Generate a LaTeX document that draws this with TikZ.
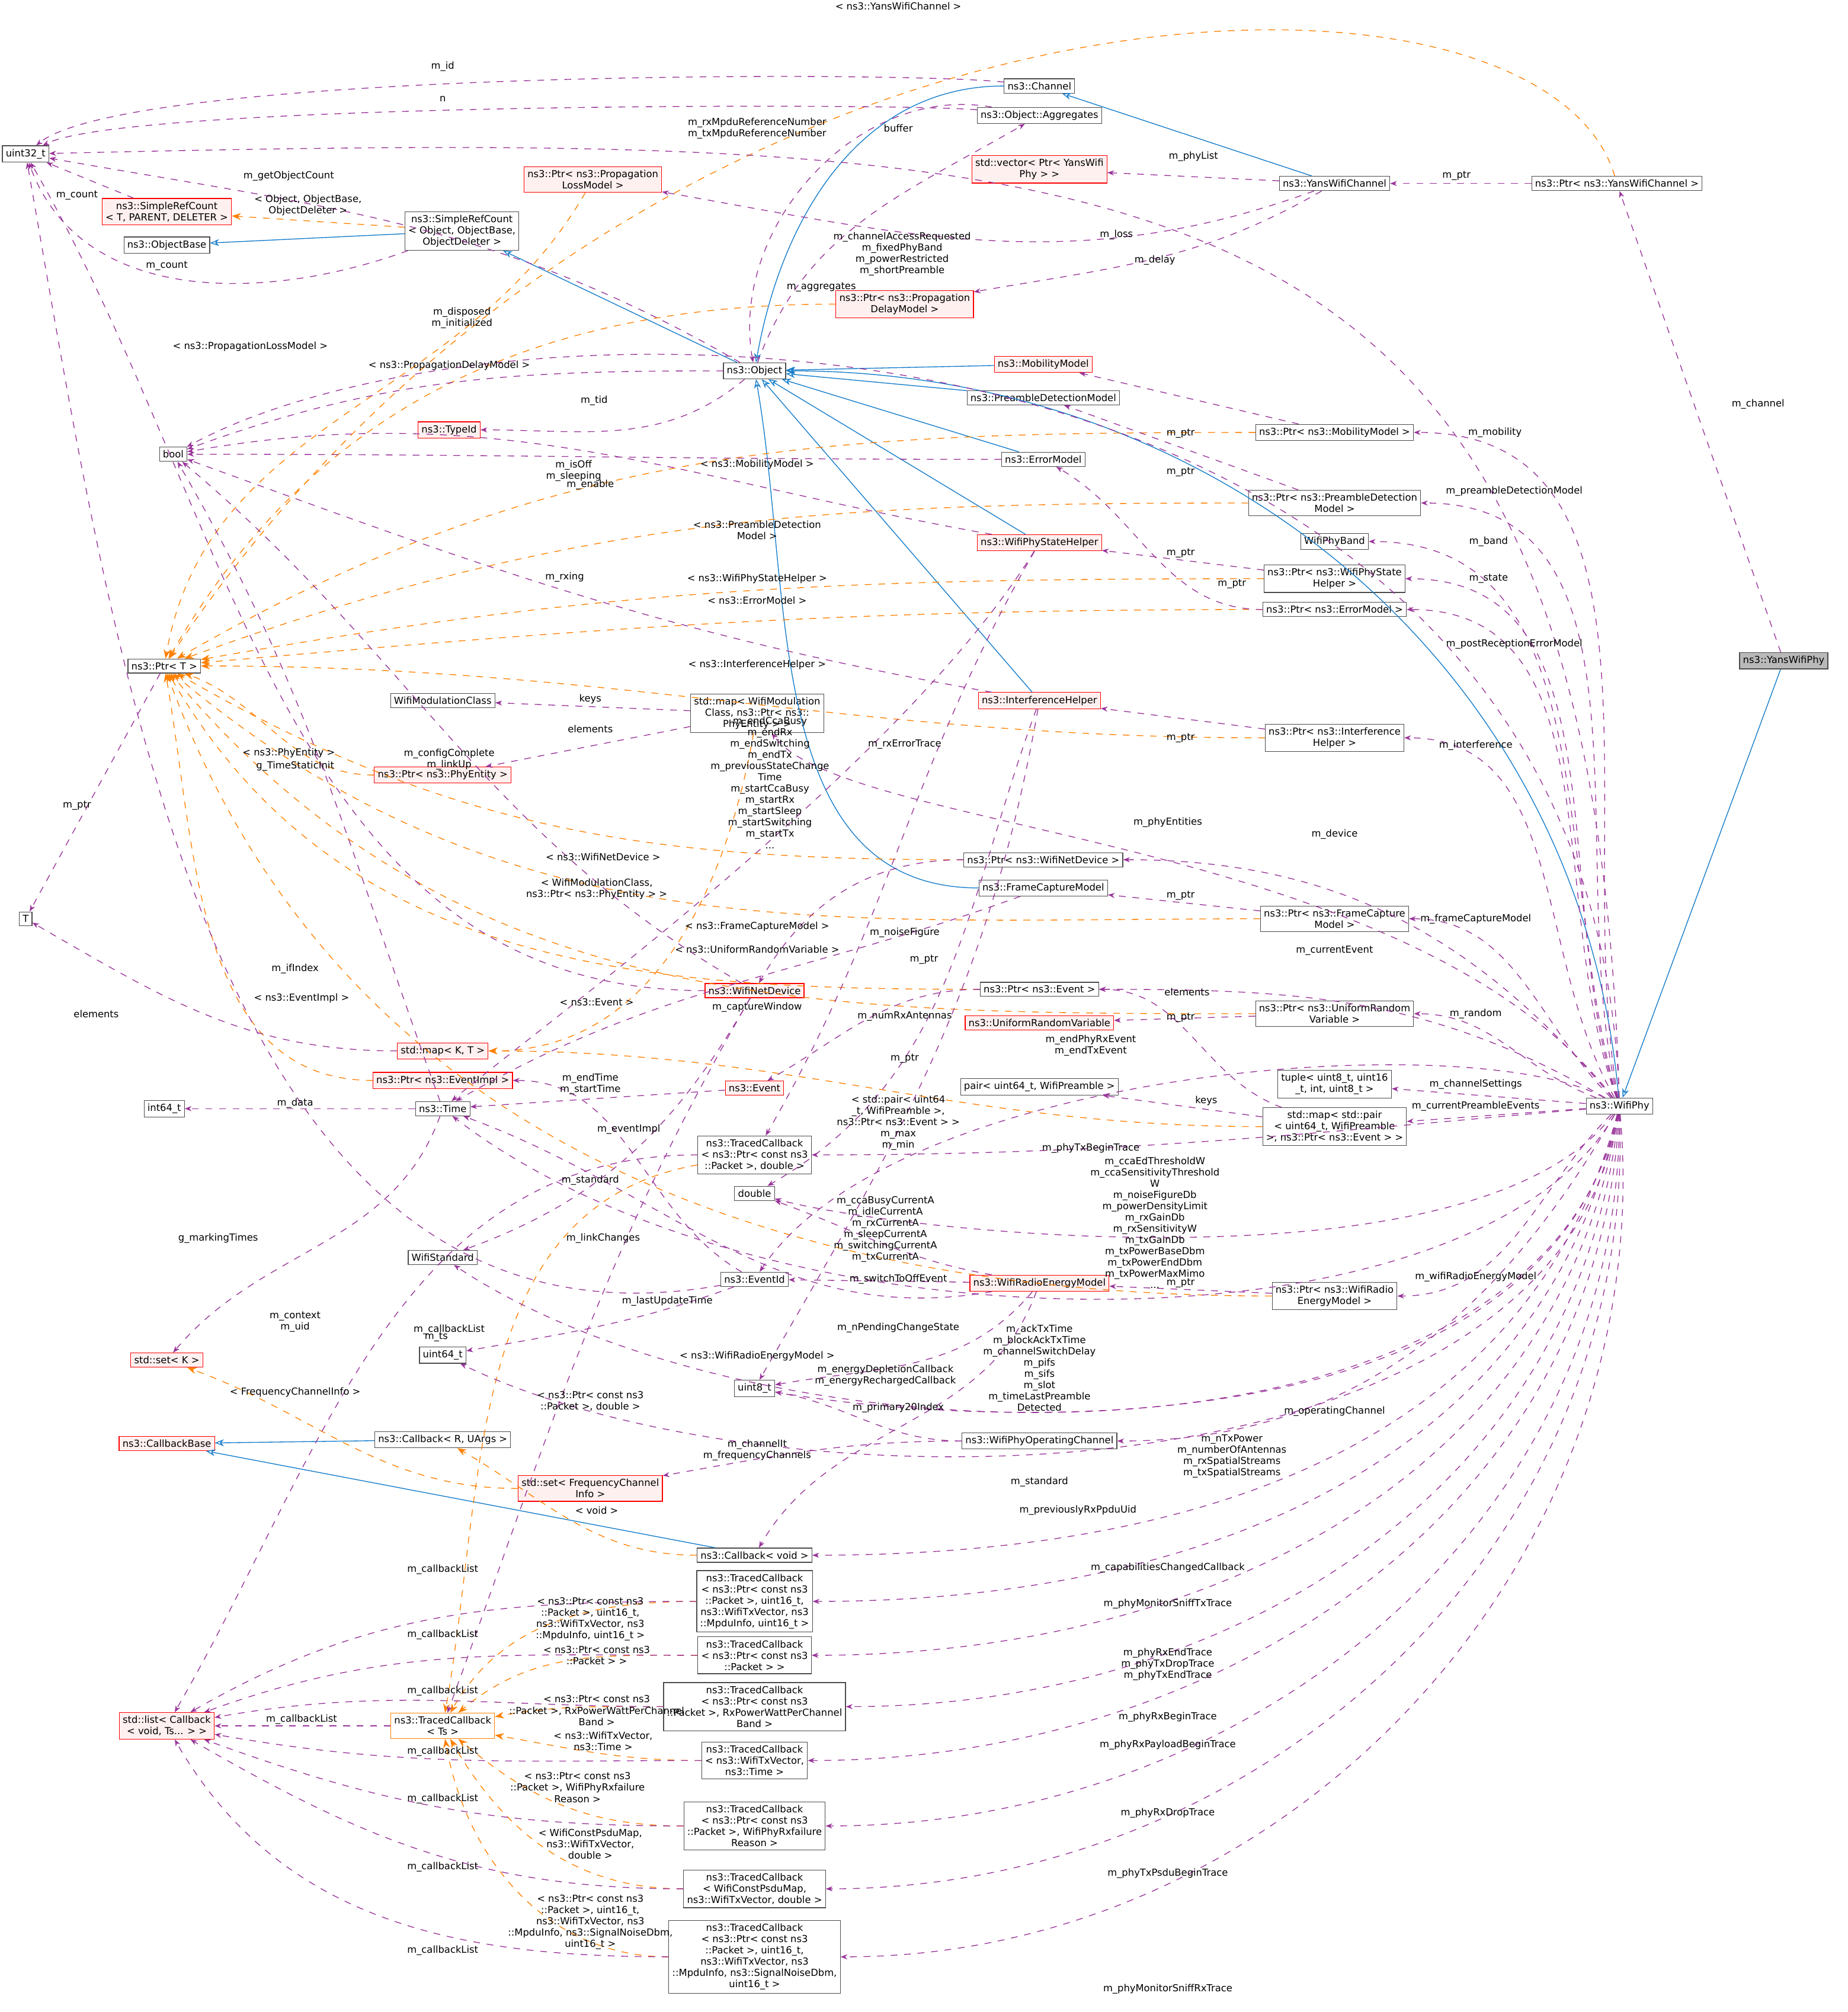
\documentclass[tikz,border=0pt]{standalone}
\usepackage{fontspec}
\setmainfont{DejaVu Sans}
\usetikzlibrary{arrows.meta}

\begin{document}
\begin{tikzpicture}[x=0.02cm,y=-0.02cm,
    box/.style={draw=black!70, fill=white, font=\fontsize{4.3}{5}\selectfont, align=center, inner sep=1.5pt, line width=0.3pt},
    redbox/.style={box, draw=red, fill=red!6},
    orbox/.style={box, draw=orange},
    mem/.style={draw=violet!80, dashed, line width=0.35pt, -{Stealth[length=3pt]}},
    inh/.style={draw=cyan!60!blue, line width=0.35pt, -{Stealth[open,length=4pt]}},
    tpl/.style={draw=orange, dashed, line width=0.35pt, -{Stealth[length=4pt]}},
    lab/.style={font=\fontsize{4.3}{5}\selectfont, align=center, inner sep=0.5pt, text=black}]
    \useasboundingbox (0,0) rectangle (1440,1568);

    % classes
    \node[box, fill=gray!55] (yphy) at (1390,515) {ns3::YansWifiPhy};
    \node[box] (wphy) at (1262,862) {ns3::WifiPhy};
    \node[box] (obj) at (588,289) {ns3::Object};
    \node[box] (u32) at (20,120) {uint32\_t};
    \node[box] (chan) at (810,67) {ns3::Channel};
    \node[box] (aggr) at (810,90) {ns3::Object::Aggregates};
    \node[redbox] (vphy) at (810,132) {std::vector< Ptr< YansWifi\\Phy > >};
    \node[box] (ychan) at (1040,143) {ns3::YansWifiChannel};
    \node[box] (pychan) at (1260,143) {ns3::Ptr< ns3::YansWifiChannel >};
    \node[redbox] (ploss) at (462,140) {ns3::Ptr< ns3::Propagation\\LossModel >};
    \node[redbox] (srct) at (130,165) {ns3::SimpleRefCount\\< T, PARENT, DELETER >};
    \node[box] (objb) at (130,191) {ns3::ObjectBase};
    \node[box] (srco) at (360,180) {ns3::SimpleRefCount\\< Object, ObjectBase,\\ObjectDeleter >};
    \node[redbox] (pdelay) at (705,237) {ns3::Ptr< ns3::Propagation\\DelayModel >};
    \node[redbox] (mob) at (813,284) {ns3::MobilityModel};
    \node[box] (pdm) at (813,310) {ns3::PreambleDetectionModel};
    \node[box] (pmob) at (1040,337) {ns3::Ptr< ns3::MobilityModel >};
    \node[redbox] (tid) at (350,335) {ns3::TypeId};
    \node[box] (bool) at (135,354) {bool};
    \node[box] (err) at (813,358) {ns3::ErrorModel};
    \node[box] (ppdm) at (1040,392) {ns3::Ptr< ns3::PreambleDetection\\Model >};
    \node[box] (band) at (1040,422) {WifiPhyBand};
    \node[redbox] (sth) at (810,423) {ns3::WifiPhyStateHelper};
    \node[box] (psth) at (1040,451) {ns3::Ptr< ns3::WifiPhyState\\Helper >};
    \node[box] (perr) at (1040,475) {ns3::Ptr< ns3::ErrorModel >};
    \node[box] (ptrt) at (128,519) {ns3::Ptr< T >};
    \node[box] (wmc) at (345,546) {WifiModulationClass};
    \node[box] (mapwmc) at (590,556) {std::map< WifiModulation\\Class, ns3::Ptr< ns3::\\PhyEntity > >};
    \node[redbox] (ifh) at (810,546) {ns3::InterferenceHelper};
    \node[box] (pifh) at (1040,575) {ns3::Ptr< ns3::Interference\\Helper >};
    \node[redbox] (ppe) at (345,604) {ns3::Ptr< ns3::PhyEntity >};
    \node[box] (pnd) at (813,670) {ns3::Ptr< ns3::WifiNetDevice >};
    \node[box] (fcm) at (813,692) {ns3::FrameCaptureModel};
    \node[box] (pfcm) at (1040,716) {ns3::Ptr< ns3::FrameCapture\\Model >};
    \node[box] (t) at (20,716) {T};
    \node[redbox] (nd) at (588,772) {ns3::WifiNetDevice};
    \node[box] (pev) at (810,771) {ns3::Ptr< ns3::Event >};
    \node[box] (purv) at (1040,790) {ns3::Ptr< ns3::UniformRandom\\Variable >};
    \node[redbox] (urv) at (810,797) {ns3::UniformRandomVariable};
    \node[redbox] (mapkt) at (345,819) {std::map< K, T >};
    \node[redbox] (pevi) at (345,842) {ns3::Ptr< ns3::EventImpl >};
    \node[box] (pair) at (810,847) {pair< uint64\_t, WifiPreamble >};
    \node[box] (tuple) at (1040,845) {tuple< uint8\_t, uint16\\\_t, int, uint8\_t >};
    \node[redbox] (ev) at (588,848) {ns3::Event};
    \node[box] (i64) at (128,864) {int64\_t};
    \node[box] (time) at (345,864) {ns3::Time};
    \node[box] (mappair) at (1040,878) {std::map< std::pair\\< uint64\_t, WifiPreamble\\>, ns3::Ptr< ns3::Event > >};
    \node[box] (tcpd) at (588,900) {ns3::TracedCallback\\< ns3::Ptr< const ns3\\::Packet >, double >};
    \node[box] (dbl) at (588,930) {double};
    \node[box] (std) at (345,980) {WifiStandard};
    \node[box] (evid) at (588,997) {ns3::EventId};
    \node[redbox] (rem) at (810,1000) {ns3::WifiRadioEnergyModel};
    \node[box] (prem) at (1040,1010) {ns3::Ptr< ns3::WifiRadio\\EnergyModel >};
    \node[redbox] (setk) at (130,1060) {std::set< K >};
    \node[box] (u64) at (345,1056) {uint64\_t};
    \node[box] (u8) at (588,1082) {uint8\_t};
    \node[box] (opch) at (810,1123) {ns3::WifiPhyOperatingChannel};
    \node[redbox] (cbb) at (130,1125) {ns3::CallbackBase};
    \node[box] (cbr) at (345,1122) {ns3::Callback< R, UArgs >};
    \node[redbox] (setf) at (460,1160) {std::set< FrequencyChannel\\Info >};
    \node[box] (cbv) at (588,1212) {ns3::Callback< void >};
    \node[box] (tc1) at (588,1248) {ns3::TracedCallback\\< ns3::Ptr< const ns3\\::Packet >, uint16\_t,\\ns3::WifiTxVector, ns3\\::MpduInfo, uint16\_t >};
    \node[box] (tc2) at (588,1290) {ns3::TracedCallback\\< ns3::Ptr< const ns3\\::Packet > >};
    \node[redbox] (list) at (130,1345) {std::list< Callback\\< void, Ts... > >};
    \node[orbox] (tcts) at (345,1345) {ns3::TracedCallback\\< Ts >};
    \node[box] (tc3) at (588,1330) {ns3::TracedCallback\\< ns3::Ptr< const ns3\\::Packet >, RxPowerWattPerChannel\\Band >};
    \node[box] (tc4) at (588,1372) {ns3::TracedCallback\\< ns3::WifiTxVector,\\ns3::Time >};
    \node[box] (tc5) at (588,1423) {ns3::TracedCallback\\< ns3::Ptr< const ns3\\::Packet >, WifiPhyRxfailure\\Reason >};
    \node[box] (tc6) at (588,1472) {ns3::TracedCallback\\< WifiConstPsduMap,\\ns3::WifiTxVector, double >};
    \node[box] (tc7) at (588,1525) {ns3::TracedCallback\\< ns3::Ptr< const ns3\\::Packet >, uint16\_t,\\ns3::WifiTxVector, ns3\\::MpduInfo, ns3::SignalNoiseDbm,\\uint16\_t >};

    % inheritance
    \draw[inh] (yphy) -- (wphy);
    \draw[inh] (wphy) to[out=95,in=0] (obj);
    \draw[inh] (ychan) -- (chan);
    \draw[inh] (chan) to[out=180,in=80] (obj);
    \draw[inh] (obj) -- (srco);
    \draw[inh] (srco) -- (objb);
    \draw[inh] (mob) -- (obj);
    \draw[inh] (pdm) -- (obj);
    \draw[inh] (err) -- (obj);
    \draw[inh] (sth) -- (obj);
    \draw[inh] (ifh) -- (obj);
    \draw[inh] (fcm) to[out=180,in=-80] (obj);
    \draw[inh] (cbr) -- (cbb);
    \draw[inh] (cbv) -- (cbb);

    % templates
    \draw[tpl] (srco) -- (srct);
    \draw[tpl] (pychan) .. controls (1200,-60) and (500,-40) .. (ptrt);
    \draw[tpl] (ploss) to[out=240,in=80] (ptrt);
    \draw[tpl] (pdelay) to[out=180,in=60] (ptrt);
    \draw[tpl] (pmob) to[out=180,in=30] (ptrt);
    \draw[tpl] (ppdm) to[out=180,in=20] (ptrt);
    \draw[tpl] (psth) to[out=180,in=10] (ptrt);
    \draw[tpl] (perr) to[out=180,in=5] (ptrt);
    \draw[tpl] (pifh) to[out=180,in=0] (ptrt);
    \draw[tpl] (ppe) to[out=180,in=-20] (ptrt);
    \draw[tpl] (pnd) to[out=180,in=-30] (ptrt);
    \draw[tpl] (pfcm) to[out=180,in=-40] (ptrt);
    \draw[tpl] (purv) to[out=180,in=-50] (ptrt);
    \draw[tpl] (pev) to[out=180,in=-60] (ptrt);
    \draw[tpl] (pevi) to[out=180,in=-80] (ptrt);
    \draw[tpl] (prem) to[out=180,in=-70] (ptrt);
    \draw[tpl] (mapwmc) to[out=-100,in=0] (mapkt);
    \draw[tpl] (mappair) to[out=180,in=0] (mapkt);
    \draw[tpl] (setf) to[out=180,in=-20] (setk);
    \draw[tpl] (cbv) to[out=180,in=-30] (cbr);
    \draw[tpl] (tcpd) to[out=190,in=80] (tcts);
    \draw[tpl] (tc1) to[out=180,in=60] (tcts);
    \draw[tpl] (tc2) to[out=180,in=40] (tcts);
    \draw[tpl] (tc3) to[out=180,in=10] (tcts);
    \draw[tpl] (tc4) to[out=180,in=-10] (tcts);
    \draw[tpl] (tc5) to[out=180,in=-40] (tcts);
    \draw[tpl] (tc6) to[out=180,in=-60] (tcts);
    \draw[tpl] (tc7) to[out=180,in=-80] (tcts);

    % members
    \draw[mem] (yphy) -- (pychan);
    \draw[mem] (pychan) -- (ychan);
    \draw[mem] (ychan) -- (vphy);
    \draw[mem] (ychan) to[out=200,in=-10] (ploss);
    \draw[mem] (ychan) to[out=-150,in=10] (pdelay);
    \draw[mem] (chan) .. controls (700,55) and (100,55) .. (u32);
    \draw[mem] (aggr) .. controls (700,80) and (100,80) .. (u32);
    \draw[mem] (obj) to[out=70,in=210] (aggr);
    \draw[mem] (aggr) to[out=170,in=100] (obj);
    \draw[mem] (obj) to[out=180,in=20] (bool);
    \draw[mem] (obj) to[out=150,in=-10] (u32);
    \draw[mem] (obj) to[out=220,in=0] (tid);
    \draw[mem] (srco) to[out=200,in=-70] (u32);
    \draw[mem] (srct) -- (u32);
    \draw[mem] (ptrt) -- (t);
    \draw[mem] (wphy) .. controls (1240,110) and (900,100) .. (u32);
    \draw[mem] (wphy) .. controls (1240,220) and (400,210) .. (bool);
    \draw[mem] (wphy) to[out=100,in=0] (pmob);
    \draw[mem] (pmob) -- (mob);
    \draw[mem] (wphy) to[out=103,in=0] (ppdm);
    \draw[mem] (ppdm) -- (pdm);
    \draw[mem] (wphy) to[out=106,in=0] (band);
    \draw[mem] (wphy) to[out=108,in=0] (psth);
    \draw[mem] (psth) -- (sth);
    \draw[mem] (wphy) to[out=110,in=0] (perr);
    \draw[mem] (perr) to[out=180,in=-30] (err);
    \draw[mem] (err) to[out=180,in=0] (bool);
    \draw[mem] (sth) to[out=170,in=10] (bool);
    \draw[mem] (sth) .. controls (700,600) and (420,800) .. (time);
    \draw[mem] (sth) to[out=-120,in=60] (tcpd);
    \draw[mem] (ifh) to[out=170,in=-20] (bool);
    \draw[mem] (ifh) to[out=-110,in=30] (dbl);
    \draw[mem] (ifh) to[out=-100,in=60] (u8);
    \draw[mem] (wphy) to[out=120,in=0] (pifh);
    \draw[mem] (pifh) -- (ifh);
    \draw[mem] (wphy) .. controls (1100,650) and (660,650) .. (mapwmc);
    \draw[mem] (mapwmc) -- (wmc);
    \draw[mem] (mapwmc) -- (ppe);
    \draw[mem] (wphy) to[out=130,in=0] (pnd);
    \draw[mem] (pnd) to[out=180,in=60] (nd);
    \draw[mem] (nd) to[out=150,in=-40] (bool);
    \draw[mem] (nd) to[out=180,in=-60] (u32);
    \draw[mem] (nd) to[out=-120,in=70] (tcts);
    \draw[mem] (nd) to[out=-120,in=20] (std);
    \draw[mem] (wphy) to[out=135,in=0] (pfcm);
    \draw[mem] (pfcm) -- (fcm);
    \draw[mem] (fcm) to[out=200,in=30] (time);
    \draw[mem] (wphy) to[out=150,in=0] (pev);
    \draw[mem] (pev) to[out=180,in=30] (ev);
    \draw[mem] (wphy) to[out=160,in=0] (purv);
    \draw[mem] (purv) -- (urv);
    \draw[mem] (mapkt) to[out=180,in=-30] (t);
    \draw[mem] (evid) to[out=150,in=0] (pevi);
    \draw[mem] (ev) -- (time);
    \draw[mem] (time) -- (i64);
    \draw[mem] (time) to[out=-110,in=50] (setk);
    \draw[mem] (time) to[out=110,in=-60] (bool);
    \draw[mem] (wphy) -- (tuple);
    \draw[mem] (wphy) -- (mappair);
    \draw[mem] (mappair) -- (pair);
    \draw[mem] (mappair) to[out=160,in=0] (pev);
    \draw[mem] (wphy) .. controls (1150,800) and (700,830) .. (evid);
    \draw[mem] (wphy) to[out=185,in=0] (tcpd);
    \draw[mem] (wphy) .. controls (1150,1010) and (700,960) .. (dbl);
    \draw[mem] (wphy) to[out=225,in=0] (prem);
    \draw[mem] (prem) -- (rem);
    \draw[mem] (rem) to[out=170,in=-20] (dbl);
    \draw[mem] (rem) -- (evid);
    \draw[mem] (rem) to[out=190,in=-20] (time);
    \draw[mem] (rem) to[out=-130,in=10] (u8);
    \draw[mem] (rem) to[out=-110,in=60] (cbv);
    \draw[mem] (evid) to[out=190,in=-80] (u32);
    \draw[mem] (evid) to[out=200,in=10] (u64);
    \draw[mem] (wphy) .. controls (1150,1060) and (600,1060) .. (time);
    \draw[mem] (wphy) to[out=240,in=0] (opch);
    \draw[mem] (opch) to[out=180,in=-10] (u8);
    \draw[mem] (opch) to[out=180,in=10] (setf);
    \draw[mem] (wphy) .. controls (1200,1140) and (750,1110) .. (u8);
    \draw[mem] (wphy) .. controls (1200,1160) and (600,1150) .. (std);
    \draw[mem] (wphy) .. controls (1210,1180) and (600,1180) .. (u64);
    \draw[mem] (wphy) to[out=255,in=0] (cbv);
    \draw[mem] (wphy) to[out=258,in=0] (tc1);
    \draw[mem] (wphy) to[out=261,in=0] (tc2);
    \draw[mem] (wphy) to[out=264,in=0] (tc3);
    \draw[mem] (wphy) to[out=267,in=0] (tc4);
    \draw[mem] (wphy) to[out=270,in=0] (tc5);
    \draw[mem] (wphy) to[out=272,in=0] (tc6);
    \draw[mem] (wphy) to[out=275,in=0] (tc7);
    \draw[mem] (tcts) -- (list);
    \draw[mem] (tcpd) to[out=180,in=60] (list);
    \draw[mem] (tc1) to[out=180,in=30] (list);
    \draw[mem] (tc2) to[out=180,in=20] (list);
    \draw[mem] (tc3) to[out=180,in=10] (list);
    \draw[mem] (tc4) to[out=180,in=-10] (list);
    \draw[mem] (tc5) to[out=180,in=-20] (list);
    \draw[mem] (tc6) to[out=180,in=-30] (list);
    \draw[mem] (tc7) to[out=180,in=-60] (list);

    % labels
    \node[lab] at (1370,315) {m\_channel};
    \node[lab] at (1135,137) {m\_ptr};
    \node[lab] at (930,122) {m\_phyList};
    \node[lab] at (870,183) {m\_loss};
    \node[lab] at (900,203) {m\_delay};
    \node[lab] at (345,52) {m\_id};
    \node[lab] at (345,77) {n};
    \node[lab] at (700,100) {buffer};
    \node[lab] at (640,224) {m\_aggregates};
    \node[lab] at (360,248) {m\_disposed\\m\_initialized};
    \node[lab] at (225,137) {m\_getObjectCount};
    \node[lab] at (463,312) {m\_tid};
    \node[lab] at (130,207) {m\_count};
    \node[lab] at (60,152) {m\_count};
    \node[lab] at (60,628) {m\_ptr};
    \node[lab] at (700,5) {< ns3::YansWifiChannel >};
    \node[lab] at (240,160) {< Object, ObjectBase,\\ObjectDeleter >};
    \node[lab] at (590,100) {m\_rxMpduReferenceNumber\\m\_txMpduReferenceNumber};
    \node[lab] at (703,198) {m\_channelAccessRequested\\m\_fixedPhyBand\\m\_powerRestricted\\m\_shortPreamble};
    \node[lab] at (195,270) {< ns3::PropagationLossModel >};
    \node[lab] at (350,285) {< ns3::PropagationDelayModel >};
    \node[lab] at (590,362) {< ns3::MobilityModel >};
    \node[lab] at (590,413) {< ns3::PreambleDetection\\Model >};
    \node[lab] at (590,451) {< ns3::WifiPhyStateHelper >};
    \node[lab] at (590,468) {< ns3::ErrorModel >};
    \node[lab] at (590,518) {< ns3::InterferenceHelper >};
    \node[lab] at (225,587) {< ns3::PhyEntity >};
    \node[lab] at (470,668) {< ns3::WifiNetDevice >};
    \node[lab] at (465,693) {< WifiModulationClass,\\ns3::Ptr< ns3::PhyEntity > >};
    \node[lab] at (590,722) {< ns3::FrameCaptureModel >};
    \node[lab] at (590,740) {< ns3::UniformRandomVariable >};
    \node[lab] at (465,781) {< ns3::Event >};
    \node[lab] at (235,778) {< ns3::EventImpl >};
    \node[lab] at (700,875) {< std::pair< uint64\\\_t, WifiPreamble >,\\ns3::Ptr< ns3::Event > >\\m\_max\\m\_min};
    \node[lab] at (590,1057) {< ns3::WifiRadioEnergyModel >};
    \node[lab] at (230,1085) {< FrequencyChannelInfo >};
    \node[lab] at (465,1177) {< void >};
    \node[lab] at (920,338) {m\_ptr};
    \node[lab] at (920,368) {m\_ptr};
    \node[lab] at (920,431) {m\_ptr};
    \node[lab] at (960,455) {m\_ptr};
    \node[lab] at (920,575) {m\_ptr};
    \node[lab] at (920,698) {m\_ptr};
    \node[lab] at (920,793) {m\_ptr};
    \node[lab] at (925,773) {elements};
    \node[lab] at (940,858) {keys};
    \node[lab] at (920,1000) {m\_ptr};
    \node[lab] at (720,748) {m\_ptr};
    \node[lab] at (705,825) {m\_ptr};
    \node[lab] at (1165,337) {m\_mobility};
    \node[lab] at (1180,383) {m\_preambleDetectionModel};
    \node[lab] at (1160,422) {m\_band};
    \node[lab] at (1160,451) {m\_state};
    \node[lab] at (1180,502) {m\_postReceptionErrorModel};
    \node[lab] at (1150,581) {m\_interference};
    \node[lab] at (910,641) {m\_phyEntities};
    \node[lab] at (1040,650) {m\_device};
    \node[lab] at (1150,716) {m\_frameCaptureModel};
    \node[lab] at (1040,741) {m\_currentEvent};
    \node[lab] at (1150,790) {m\_random};
    \node[lab] at (1150,845) {m\_channelSettings};
    \node[lab] at (1150,862) {m\_currentPreambleEvents};
    \node[lab] at (850,815) {m\_endPhyRxEvent\\m\_endTxEvent};
    \node[lab] at (850,895) {m\_phyTxBeginTrace};
    \node[lab] at (900,953) {m\_ccaEdThresholdW\\m\_ccaSensitivityThreshold\\W\\m\_noiseFigureDb\\m\_powerDensityLimit\\m\_rxGainDb\\m\_rxSensitivityW\\m\_txGainDb\\m\_txPowerBaseDbm\\m\_txPowerEndDbm\\m\_txPowerMaxMimo\\...};
    \node[lab] at (1150,995) {m\_wifiRadioEnergyModel};
    \node[lab] at (690,958) {m\_ccaBusyCurrentA\\m\_idleCurrentA\\m\_rxCurrentA\\m\_sleepCurrentA\\m\_switchingCurrentA\\m\_txCurrentA};
    \node[lab] at (700,997) {m\_switchToOffEvent};
    \node[lab] at (520,1014) {m\_lastUpdateTime};
    \node[lab] at (700,1035) {m\_nPendingChangeState};
    \node[lab] at (690,1072) {m\_energyDepletionCallback\\m\_energyRechargedCallback};
    \node[lab] at (810,1066) {m\_ackTxTime\\m\_blockAckTxTime\\m\_channelSwitchDelay\\m\_pifs\\m\_sifs\\m\_slot\\m\_timeLastPreamble\\Detected};
    \node[lab] at (700,1097) {m\_primary20Index};
    \node[lab] at (590,1130) {m\_channelIt\\m\_frequencyChannels};
    \node[lab] at (1040,1100) {m\_operatingChannel};
    \node[lab] at (960,1135) {m\_nTxPower\\m\_numberOfAntennas\\m\_rxSpatialStreams\\m\_txSpatialStreams};
    \node[lab] at (810,1155) {m\_standard};
    \node[lab] at (840,1177) {m\_previouslyRxPpduUid};
    \node[lab] at (910,1222) {m\_capabilitiesChangedCallback};
    \node[lab] at (910,1250) {m\_phyMonitorSniffTxTrace};
    \node[lab] at (910,1297) {m\_phyRxEndTrace\\m\_phyTxDropTrace\\m\_phyTxEndTrace};
    \node[lab] at (910,1338) {m\_phyRxBeginTrace};
    \node[lab] at (910,1360) {m\_phyRxPayloadBeginTrace};
    \node[lab] at (910,1413) {m\_phyRxDropTrace};
    \node[lab] at (910,1460) {m\_phyTxPsduBeginTrace};
    \node[lab] at (910,1550) {m\_phyMonitorSniffRxTrace};
    \node[lab] at (600,610) {m\_endCcaBusy\\m\_endRx\\m\_endSwitching\\m\_endTx\\m\_previousStateChange\\Time\\m\_startCcaBusy\\m\_startRx\\m\_startSleep\\m\_startSwitching\\m\_startTx\\...};
    \node[lab] at (705,580) {m\_rxErrorTrace};
    \node[lab] at (447,367) {m\_isOff\\m\_sleeping};
    \node[lab] at (460,378) {m\_enable};
    \node[lab] at (440,450) {m\_rxing};
    \node[lab] at (705,727) {m\_noiseFigure};
    \node[lab] at (705,792) {m\_numRxAntennas};
    \node[lab] at (460,545) {keys};
    \node[lab] at (460,568) {elements};
    \node[lab] at (350,592) {m\_configComplete\\m\_linkUp};
    \node[lab] at (230,755) {m\_ifIndex};
    \node[lab] at (230,597) {g\_TimeStaticInit};
    \node[lab] at (590,785) {m\_captureWindow};
    \node[lab] at (460,845) {m\_endTime\\m\_startTime};
    \node[lab] at (230,860) {m\_data};
    \node[lab] at (490,880) {m\_eventImpl};
    \node[lab] at (460,920) {m\_standard};
    \node[lab] at (170,965) {g\_markingTimes};
    \node[lab] at (470,965) {m\_linkChanges};
    \node[lab] at (230,1030) {m\_context\\m\_uid};
    \node[lab] at (340,1042) {m\_ts};
    \node[lab] at (75,790) {elements};
    \node[lab] at (460,1092) {< ns3::Ptr< const ns3\\::Packet >, double >};
    \node[lab] at (460,1262) {< ns3::Ptr< const ns3\\::Packet >, uint16\_t,\\ns3::WifiTxVector, ns3\\::MpduInfo, uint16\_t >};
    \node[lab] at (465,1290) {< ns3::Ptr< const ns3\\::Packet > >};
    \node[lab] at (465,1333) {< ns3::Ptr< const ns3\\::Packet >, RxPowerWattPerChannel\\Band >};
    \node[lab] at (470,1357) {< ns3::WifiTxVector,\\ns3::Time >};
    \node[lab] at (450,1393) {< ns3::Ptr< const ns3\\::Packet >, WifiPhyRxfailure\\Reason >};
    \node[lab] at (460,1437) {< WifiConstPsduMap,\\ns3::WifiTxVector,\\double >};
    \node[lab] at (460,1498) {< ns3::Ptr< const ns3\\::Packet >, uint16\_t,\\ns3::WifiTxVector, ns3\\::MpduInfo, ns3::SignalNoiseDbm,\\uint16\_t >};
    \node[lab] at (350,1036) {m\_callbackList};
    \node[lab] at (345,1223) {m\_callbackList};
    \node[lab] at (345,1274) {m\_callbackList};
    \node[lab] at (345,1318) {m\_callbackList};
    \node[lab] at (235,1340) {m\_callbackList};
    \node[lab] at (345,1365) {m\_callbackList};
    \node[lab] at (345,1402) {m\_callbackList};
    \node[lab] at (345,1455) {m\_callbackList};
    \node[lab] at (345,1520) {m\_callbackList};
\end{tikzpicture}
\end{document}
